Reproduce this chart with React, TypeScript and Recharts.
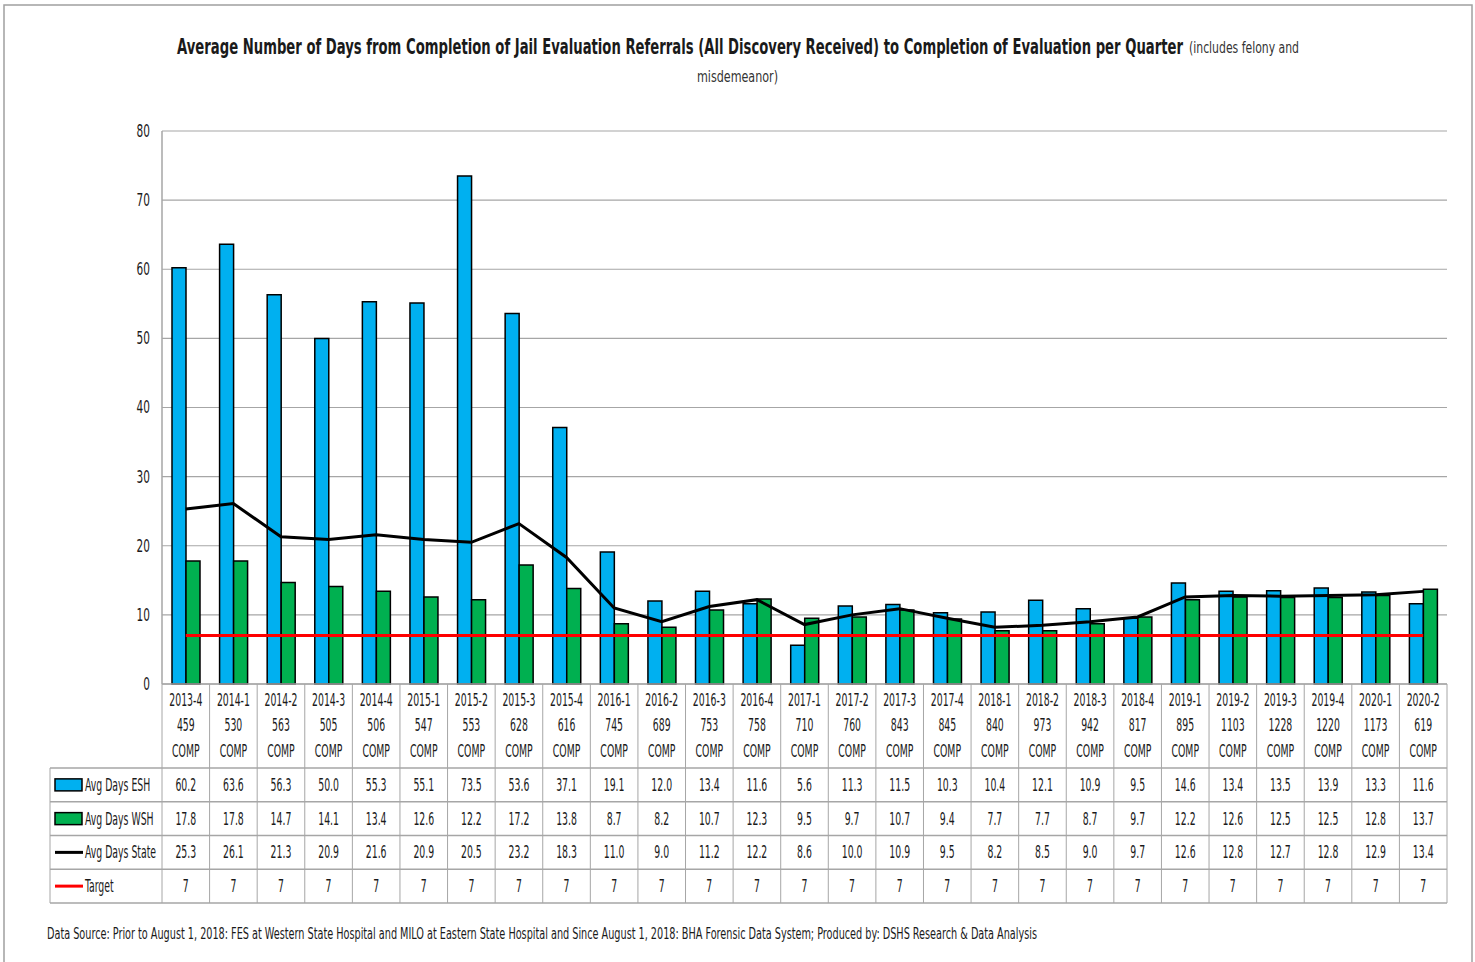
import React from "react";
import { Bar, CartesianGrid, ComposedChart, Line, XAxis, YAxis } from "recharts";

// Avg days from completion of jail evaluation referrals to completed evaluation, by quarter
const quarters = [
  "2013-4", "2014-1", "2014-2", "2014-3", "2014-4", "2015-1", "2015-2", "2015-3", "2015-4",
  "2016-1", "2016-2", "2016-3", "2016-4", "2017-1", "2017-2", "2017-3", "2017-4", "2018-1",
  "2018-2", "2018-3", "2018-4", "2019-1", "2019-2", "2019-3", "2019-4", "2020-1", "2020-2",
];
const comps = [
  459, 530, 563, 505, 506, 547, 553, 628, 616, 745, 689, 753, 758, 710, 760, 843, 845, 840,
  973, 942, 817, 895, 1103, 1228, 1220, 1173, 619,
];
const esh = [
  60.2, 63.6, 56.3, 50.0, 55.3, 55.1, 73.5, 53.6, 37.1, 19.1, 12.0, 13.4, 11.6, 5.6, 11.3, 11.5,
  10.3, 10.4, 12.1, 10.9, 9.5, 14.6, 13.4, 13.5, 13.9, 13.3, 11.6,
];
const wsh = [
  17.8, 17.8, 14.7, 14.1, 13.4, 12.6, 12.2, 17.2, 13.8, 8.7, 8.2, 10.7, 12.3, 9.5, 9.7, 10.7,
  9.4, 7.7, 7.7, 8.7, 9.7, 12.2, 12.6, 12.5, 12.5, 12.8, 13.7,
];
const state = [
  25.3, 26.1, 21.3, 20.9, 21.6, 20.9, 20.5, 23.2, 18.3, 11.0, 9.0, 11.2, 12.2, 8.6, 10.0, 10.9,
  9.5, 8.2, 8.5, 9.0, 9.7, 12.6, 12.8, 12.7, 12.8, 12.9, 13.4,
];
const target = [7, 7, 7, 7, 7, 7, 7, 7, 7, 7, 7, 7, 7, 7, 7, 7, 7, 7, 7, 7, 7, 7, 7, 7, 7, 7, 7];
const yTicks = [0, 10, 20, 30, 40, 50, 60, 70, 80];

const data = quarters.map((q, i) => ({
  q,
  esh: esh[i],
  wsh: wsh[i],
  state: state[i],
  target: target[i],
}));

const W = 1475;
const H = 962;
const PLOT_L = 162;
const PLOT_R = 1447;
const PLOT_T = 131;
const PLOT_B = 684;
const COL_W = (PLOT_R - PLOT_L) / quarters.length;
const ROW_TOP = 768;
const ROW_H = 33.75;
const LEG_L = 50;

const BLUE = "#00B0F0";
const GREEN = "#00B050";
const GRID = "#A6A6A6";
const TXT = "#1a1a1a";
const FONT = "'DejaVu Sans Condensed', 'Liberation Sans Narrow', sans-serif";

// narrow text, squeezed to look like the condensed office font
function CText({ x, y, children, size = 17, anchor = "middle", sx = 0.61 }: any) {
  return (
    <text
      transform={`translate(${x},${y}) scale(${sx},1)`}
      textAnchor={anchor}
      dominantBaseline="central"
      fontSize={size}
      fontFamily={FONT}
      fill={TXT}
    >
      {children}
    </text>
  );
}

// text stretched to a known width (title, notes)
function FitText({ x, y, width, size, sx, weight = "normal", fill = TXT, children }: any) {
  return (
    <text
      transform={`translate(${x},${y}) scale(${sx},1)`}
      fontSize={size}
      fontWeight={weight}
      fontFamily={FONT}
      fill={fill}
      textLength={width / sx}
      lengthAdjust="spacingAndGlyphs"
    >
      {children}
    </text>
  );
}

const fmt = (v: number) => v.toFixed(1);

function TableTick(props: any) {
  const { x, payload } = props;
  const i = payload.index;
  const left = x - COL_W / 2;
  const rows = [fmt(esh[i]), fmt(wsh[i]), fmt(state[i]), String(target[i])];
  return (
    <g>
      <line x1={left} x2={left} y1={PLOT_B} y2={ROW_TOP + 4 * ROW_H} stroke={GRID} />
      {i === quarters.length - 1 && (
        <line x1={left + COL_W} x2={left + COL_W} y1={PLOT_B} y2={ROW_TOP + 4 * ROW_H} stroke={GRID} />
      )}
      <CText x={x} y={700}>{quarters[i]}</CText>
      <CText x={x} y={725}>{comps[i]}</CText>
      <CText x={x} y={751}>COMP</CText>
      {rows.map((r, k) => (
        <CText key={k} x={x} y={ROW_TOP + k * ROW_H + ROW_H / 2}>
          {r}
        </CText>
      ))}
    </g>
  );
}

function YTick(props: any) {
  const { y, payload } = props;
  return (
    <CText x={150} y={y} anchor="end" size={18} sx={0.65}>
      {payload.value}
    </CText>
  );
}

const legendRows = [
  { label: "Avg Days ESH", kind: "box", color: BLUE },
  { label: "Avg Days WSH", kind: "box", color: GREEN },
  { label: "Avg Days State", kind: "line", color: "#000" },
  { label: "Target", kind: "line", color: "#FF0000" },
];

export default function App() {
  return (
    <div style={{ position: "absolute", left: 0, top: 0, width: W, height: H, background: "#fff" }}>
      <ComposedChart
        width={W}
        height={H}
        data={data}
        margin={{ top: PLOT_T, right: W - PLOT_R, bottom: 0, left: 0 }}
        barGap={0}
      >
        <CartesianGrid vertical={false} stroke={GRID} strokeWidth={1.2} />
        <XAxis
          dataKey="q"
          height={H - PLOT_B}
          interval={0}
          tickLine={false}
          axisLine={{ stroke: GRID, strokeWidth: 1.5 }}
          tick={<TableTick />}
        />
        <YAxis
          width={PLOT_L}
          domain={[0, 80]}
          ticks={yTicks}
          tickLine={false}
          axisLine={{ stroke: GRID, strokeWidth: 1.5 }}
          tick={<YTick />}
        />
        <Bar dataKey="esh" fill={BLUE} stroke="#000" strokeWidth={1.5} barSize={14} isAnimationActive={false} />
        <Bar dataKey="wsh" fill={GREEN} stroke="#000" strokeWidth={1.5} barSize={14} isAnimationActive={false} />
        <Line dataKey="state" stroke="#000" strokeWidth={3} dot={false} isAnimationActive={false} />
        <Line dataKey="target" stroke="#FF0000" strokeWidth={3} dot={false} isAnimationActive={false} />
      </ComposedChart>

      <svg width={W} height={H} style={{ position: "absolute", left: 0, top: 0, pointerEvents: "none" }}>
        {/* page frame */}
        <rect x={4} y={5} width={1468} height={1000} fill="none" stroke="#A0A0A0" strokeWidth={1.5} />

        {/* title */}
        <FitText x={177} y={54} width={1006} size={22} sx={0.62} weight="bold">
          Average Number of Days from Completion of Jail Evaluation Referrals (All Discovery Received) to Completion of Evaluation per Quarter
        </FitText>
        <FitText x={1189} y={53} width={110} size={16} sx={0.62} fill="#333">
          (includes felony and
        </FitText>
        <FitText x={697} y={82} width={81} size={16} sx={0.62} fill="#333">
          misdemeanor)
        </FitText>

        {/* table row rules and legend column */}
        {[0, 1, 2, 3, 4].map((k) => (
          <line
            key={k}
            x1={LEG_L}
            x2={PLOT_R}
            y1={ROW_TOP + k * ROW_H}
            y2={ROW_TOP + k * ROW_H}
            stroke={GRID}
            strokeWidth={1.5}
          />
        ))}
        <line x1={LEG_L} x2={LEG_L} y1={ROW_TOP} y2={ROW_TOP + 4 * ROW_H} stroke={GRID} />
        {legendRows.map((r, k) => {
          const cy = ROW_TOP + k * ROW_H + ROW_H / 2;
          return (
            <g key={r.label}>
              {r.kind === "box" ? (
                <rect x={55} y={cy - 6} width={27} height={12} fill={r.color} stroke="#000" strokeWidth={1.5} />
              ) : (
                <line x1={55} x2={83} y1={cy} y2={cy} stroke={r.color} strokeWidth={3} />
              )}
              <CText x={85} y={cy} anchor="start">
                {r.label}
              </CText>
            </g>
          );
        })}

        {/* footer */}
        <FitText x={47} y={939} width={990} size={16} sx={0.62}>
          Data Source: Prior to August 1, 2018: FES at Western State Hospital and MILO at Eastern State Hospital and Since August 1, 2018: BHA Forensic Data System; Produced by: DSHS Research &amp; Data Analysis
        </FitText>
      </svg>
    </div>
  );
}
